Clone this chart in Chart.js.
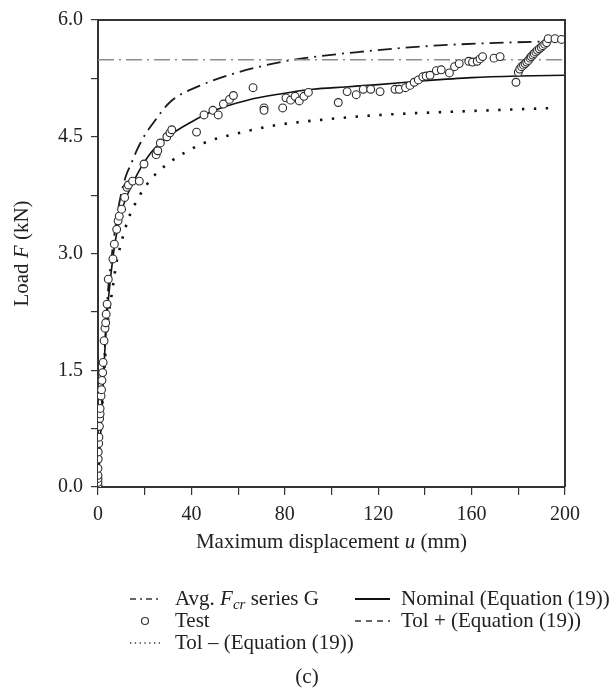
<!DOCTYPE html>
<html>
<head>
<meta charset="utf-8">
<script src="https://cdn.jsdelivr.net/npm/chart.js@4.4.0/dist/chart.umd.min.js"></script>
<style>
html,body{margin:0;padding:0;background:#fff;}
canvas{display:block;}
</style>
</head>
<body>
<canvas id="c" width="614" height="692"></canvas>
<script>
// ---- data ----
const avgU = [0, 200];
const avgF = [5.49, 5.49];

const nominalU = [0, 1, 2, 3, 4, 5, 7, 10, 15, 22, 30, 40, 50, 64, 78, 92, 106, 120, 140, 160, 180, 200];
const nominalF = [0, 0.6, 1.2, 1.8, 2.25, 2.58, 3.08, 3.53, 3.91, 4.27, 4.5, 4.69, 4.84, 4.97, 5.05, 5.11, 5.14, 5.17, 5.22, 5.26, 5.28, 5.29];

const tolPlusU = [0, 2, 4, 6, 8, 10, 12, 14, 17, 20, 23, 31, 44, 58, 75, 86, 112, 144, 186, 200];
const tolPlusF = [0, 1.22, 2.4, 3.0, 3.45, 3.78, 4.0, 4.14, 4.35, 4.52, 4.65, 4.95, 5.16, 5.31, 5.44, 5.5, 5.59, 5.67, 5.72, 5.73];

const tolMinusU = [0, 2, 4, 6.3, 7.7, 9.9, 12.7, 16.8, 22.3, 29.7, 38, 47, 56.5, 66.5, 76.5, 96.5, 120.8, 159.3, 196];
const tolMinusF = [0, 1.15, 2.05, 2.56, 2.85, 3.13, 3.42, 3.69, 3.94, 4.15, 4.31, 4.44, 4.52, 4.59, 4.65, 4.72, 4.78, 4.83, 4.87];

const testU = [0, 0, 0, 0, 0, 0, 0.1, 0.1, 0.3, 0.4, 0.6, 0.7, 0.9, 0.9, 1.3, 1.5, 1.7, 2.0, 2.2, 2.6, 3.0, 3.3, 3.5, 3.9, 4.4,
  6.4, 7.0, 8.0, 8.6, 9.1, 10.1, 11.4, 12.4, 13.0, 14.8, 17.7, 19.7, 24.9, 25.6, 26.7, 29.5, 30.8, 31.6,
  42.2, 45.4, 49.2, 51.5, 53.7, 56.3, 58.0, 66.4, 71.1, 71.1, 79.1, 80.5, 82.5, 84.4, 86.2, 88.2, 90.1,
  102.9, 106.7, 110.6, 113.6, 116.8, 120.8, 127.2, 129.0, 131.7, 133.6, 135.4, 137.2, 139.1, 140.5, 142.2, 144.9, 147.0, 150.5, 152.7, 154.7, 158.8, 160.4, 162.4, 163.6, 164.7, 169.6, 172.2,
  179.0, 180.0, 180.6, 181.4, 182.2, 182.9, 183.6, 184.3, 185.0, 185.5, 186.2, 186.8, 187.5, 188.2, 189.0, 189.8, 190.5, 191.3, 192.1, 192.8, 195.7, 198.5];
const testF = [0, 0.02, 0.06, 0.11, 0.15, 0.24, 0.36, 0.45, 0.56, 0.64, 0.78, 0.88, 0.94, 1.01, 1.17, 1.25, 1.37, 1.47, 1.60, 1.88, 2.04, 2.11, 2.22, 2.35, 2.67,
  2.93, 3.12, 3.31, 3.42, 3.48, 3.57, 3.72, 3.85, 3.88, 3.93, 3.93, 4.15, 4.27, 4.32, 4.42, 4.50, 4.55, 4.59,
  4.56, 4.78, 4.84, 4.78, 4.92, 4.98, 5.03, 5.13, 4.87, 4.84, 4.87, 5.00, 4.97, 5.02, 4.96, 5.02, 5.07,
  4.94, 5.08, 5.04, 5.11, 5.11, 5.08, 5.11, 5.11, 5.13, 5.16, 5.20, 5.23, 5.27, 5.28, 5.29, 5.35, 5.36, 5.32, 5.40, 5.44, 5.47, 5.46, 5.47, 5.50, 5.53, 5.51, 5.53,
  5.20, 5.33, 5.37, 5.40, 5.42, 5.44, 5.46, 5.48, 5.51, 5.53, 5.55, 5.57, 5.59, 5.61, 5.63, 5.65, 5.67, 5.69, 5.71, 5.76, 5.76, 5.75];

const xTickLabels = ['0', '40', '80', '120', '160', '200'];
const yTickLabels = ['0.0', '1.5', '3.0', '4.5', '6.0'];

const seriesNames = ['Avg. F_cr series G', 'Nominal (Equation (19))', 'Test', 'Tol + (Equation (19))', 'Tol – (Equation (19))'];

// ---- helpers ----
const FAM = '"Liberation Serif", "Times New Roman", serif';
const FS = 20;   // tick labels
const TS = 21;   // titles and legend text
function pts(u, f) { return u.map((v, i) => ({ x: v, y: f[i] })); }
function fnt(sz, it) { return (it ? 'italic ' : '') + sz + 'px ' + FAM; }
function rich(ctx, parts, x, y, align) {
  let w = 0;
  parts.forEach(p => { ctx.font = fnt(p.s || TS, p.i); p.w = ctx.measureText(p.t).width; w += p.w; });
  let cx = align === 'center' ? x - w / 2 : x;
  ctx.textBaseline = 'middle';
  ctx.textAlign = 'left';
  parts.forEach(p => { ctx.font = fnt(p.s || TS, p.i); ctx.fillText(p.t, cx, y + (p.dy || 0)); cx += p.w; });
}

const DASH_AVG = [16, 5, 2, 5];
const DASH_PLUS = [14, 6, 2, 6];
const DASH_MINUS = [2.4, 9.5];

const decor = {
  id: 'decor',
  afterDraw(chart) {
    const ctx = chart.ctx;
    const a = chart.chartArea;
    ctx.save();
    // frame top and right
    ctx.strokeStyle = '#333';
    ctx.lineWidth = 2;
    ctx.beginPath();
    ctx.moveTo(a.left, a.top); ctx.lineTo(a.right, a.top); ctx.lineTo(a.right, a.bottom);
    ctx.stroke();

    ctx.fillStyle = '#222';
    // x title
    rich(ctx, [{ t: 'Maximum displacement ' }, { t: 'u', i: true }, { t: ' (mm)' }], (a.left + a.right) / 2, 542, 'center');
    // y title
    ctx.save();
    ctx.translate(22, (a.top + a.bottom) / 2);
    ctx.rotate(-Math.PI / 2);
    rich(ctx, [{ t: 'Load ' }, { t: 'F', i: true }, { t: ' (kN)' }], 0, 0, 'center');
    ctx.restore();

    // legend
    const r1 = 599, r2 = 621, r3 = 643;
    const lx1 = 130, lx2 = 160, tx1 = 175;
    const rx1 = 355, rx2 = 390, tx2 = 401;
    function sw(x1, x2, y, dash, w, col) {
      ctx.save(); ctx.strokeStyle = col; ctx.lineWidth = w; ctx.setLineDash(dash);
      ctx.beginPath(); ctx.moveTo(x1, y); ctx.lineTo(x2, y); ctx.stroke(); ctx.restore();
    }
    sw(lx1, lx2, r1, [6, 4, 2, 4], 1.3, '#333');
    rich(ctx, [{ t: 'Avg. ' }, { t: 'F', i: true }, { t: 'cr', i: true, s: 15, dy: 6 }, { t: ' series G' }], tx1, r1, 'left');
    sw(rx1, rx2, r1, [], 1.8, '#111');
    rich(ctx, [{ t: 'Nominal (Equation (19))' }], tx2, r1, 'left');
    ctx.save(); ctx.strokeStyle = '#333'; ctx.lineWidth = 1.2; ctx.fillStyle = '#fff';
    ctx.beginPath(); ctx.arc(145, r2, 3.5, 0, Math.PI * 2); ctx.fill(); ctx.stroke(); ctx.restore();
    ctx.fillStyle = '#222';
    rich(ctx, [{ t: 'Test' }], tx1, r2, 'left');
    sw(rx1, rx2, r2, [6, 5], 1.3, '#333');
    rich(ctx, [{ t: 'Tol + (Equation (19))' }], tx2, r2, 'left');
    sw(lx1, lx2, r3, [1.3, 3.5], 1.3, '#333');
    rich(ctx, [{ t: 'Tol – (Equation (19))' }], tx1, r3, 'left');

    rich(ctx, [{ t: '(c)' }], 307, 677, 'center');
    ctx.restore();
  }
};

const lineBase = { showLine: true, pointRadius: 0, fill: false, cubicInterpolationMode: 'monotone', order: 2 };

new Chart(document.getElementById('c'), {
  type: 'scatter',
  data: {
    datasets: [
      Object.assign({}, lineBase, { label: seriesNames[0], data: pts(avgU, avgF), borderColor: '#8c8c8c', borderWidth: 1.6, borderDash: DASH_AVG, cubicInterpolationMode: 'default' }),
      Object.assign({}, lineBase, { label: seriesNames[1], data: pts(nominalU, nominalF), borderColor: '#111', borderWidth: 1.6 }),
      { label: seriesNames[2], data: pts(testU, testF), showLine: false, pointRadius: 3.9, pointBackgroundColor: '#fff', pointBorderColor: '#2a2a2a', pointBorderWidth: 1.1, order: 0 },
      Object.assign({}, lineBase, { label: seriesNames[3], data: pts(tolPlusU, tolPlusF), borderColor: '#1a1a1a', borderWidth: 1.8, borderDash: DASH_PLUS }),
      Object.assign({}, lineBase, { label: seriesNames[4], data: pts(tolMinusU, tolMinusF), borderColor: '#111', borderWidth: 2.6, borderDash: DASH_MINUS })
    ]
  },
  options: {
    responsive: false,
    animation: false,
    devicePixelRatio: 1,
    layout: { padding: { left: 0, top: 18, right: 49, bottom: 130 } },
    plugins: { legend: { display: false }, tooltip: { enabled: false } },
    scales: {
      x: {
        type: 'linear', min: 0, max: 200,
        afterFit(s) { s.height = 75; },
        border: { display: true, color: '#333', width: 2 },
        grid: { display: true, drawOnChartArea: false, drawTicks: true, tickLength: 8, color: '#333', lineWidth: 1.2 },
        ticks: {
          stepSize: 20, padding: 8, color: '#222', font: { family: FAM, size: FS }, maxRotation: 0, autoSkip: false,
          callback(v) { const s = String(v); return xTickLabels.includes(s) ? s : ''; }
        }
      },
      y: {
        type: 'linear', min: 0, max: 6,
        afterFit(s) { s.width = 98; },
        border: { display: true, color: '#333', width: 2 },
        grid: { display: true, drawOnChartArea: false, drawTicks: true, tickLength: 7, color: '#333', lineWidth: 1.2 },
        ticks: {
          stepSize: 0.75, padding: 8, color: '#222', font: { family: FAM, size: FS }, autoSkip: false,
          callback(v) { const s = Number(v).toFixed(1); return yTickLabels.includes(s) && Math.abs(v * 2 / 3 - Math.round(v * 2 / 3)) < 1e-6 ? s : ''; }
        }
      }
    }
  },
  plugins: [decor]
});
</script>
</body>
</html>
